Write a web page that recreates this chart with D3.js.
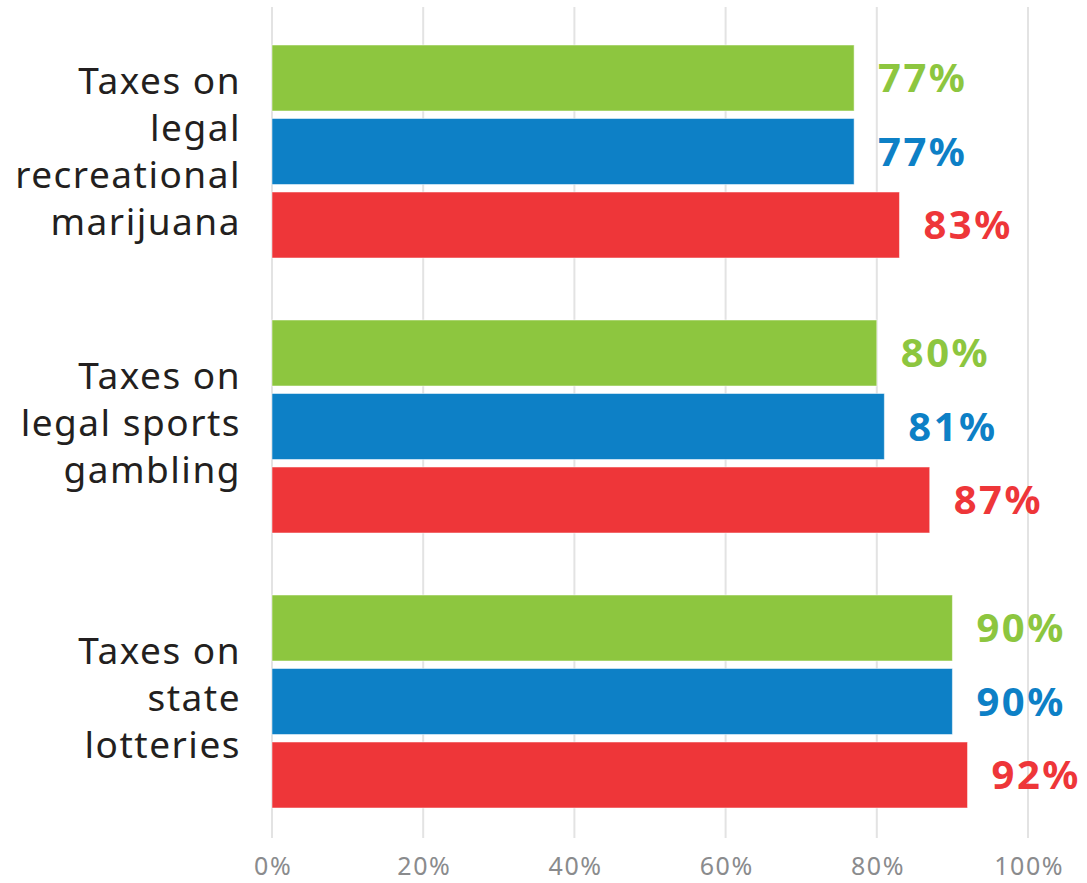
<!DOCTYPE html>
<html>
<head>
<meta charset="utf-8">
<script src="https://cdn.jsdelivr.net/npm/d3@7"></script>
<style>
  html, body { margin: 0; padding: 0; background: #ffffff; }
  svg { display: block; }
</style>
</head>
<body>
<svg id="chart" width="1087" height="883"></svg>
<script>
// Share of respondents per tax type, three respondent groups
const categories = [
  ["Taxes on", "legal", "recreational", "marijuana"],
  ["Taxes on", "legal sports", "gambling"],
  ["Taxes on", "state", "lotteries"]
];
const seriesNames = ["Green", "Blue", "Red"];
const seriesColors = ["#8dc63f", "#0d80c6", "#ee3639"];
const greenValues = [77, 80, 90];
const blueValues = [77, 81, 90];
const redValues = [83, 87, 92];
const tickValues = [0, 20, 40, 60, 80, 100];
const tickLabels = ["0%", "20%", "40%", "60%", "80%", "100%"];

const series = [greenValues, blueValues, redValues];
const font = "'Noto Sans', 'Open Sans', sans-serif";

const svg = d3.select("#chart");

const x = d3.scaleLinear().domain([0, 100]).range([272, 1028]);

// One band per category, subdivided into one band per series
const y0 = d3.scaleBand()
  .domain(d3.range(categories.length))
  .range([35, 860])
  .paddingInner(0)
  .paddingOuter(0);
const y1 = d3.scaleBand()
  .domain(d3.range(series.length))
  .range([10, 223])
  .paddingInner(0.102)
  .paddingOuter(0);

// Vertical gridlines
svg.append("g")
  .selectAll("line")
  .data(tickValues)
  .join("line")
  .attr("x1", d => x(d))
  .attr("x2", d => x(d))
  .attr("y1", 7)
  .attr("y2", 838)
  .attr("stroke", "#e3e3e3")
  .attr("stroke-width", 2);

// Axis tick labels along the bottom
const axis = d3.axisBottom(x)
  .tickValues(tickValues)
  .tickFormat((d, i) => tickLabels[i])
  .tickSize(0)
  .tickPadding(0);
const axisG = svg.append("g")
  .attr("transform", "translate(0,875)")
  .call(axis);
axisG.select(".domain").remove();
axisG.selectAll("text")
  .attr("y", 0)
  .attr("dy", 0)
  .attr("dx", "0.7px")
  .attr("fill", "#8a8b8d")
  .style("font-family", font)
  .style("font-size", "25px")
  .style("letter-spacing", "1.6px");

// Bars and value labels
const groups = svg.append("g")
  .selectAll("g")
  .data(categories)
  .join("g")
  .attr("transform", (d, i) => `translate(0,${y0(i)})`);

groups.each(function (cat, ci) {
  const g = d3.select(this);
  series.forEach((vals, si) => {
    const v = vals[ci];
    g.append("rect")
      .attr("x", x(0))
      .attr("y", y1(si))
      .attr("width", x(v) - x(0))
      .attr("height", y1.bandwidth())
      .attr("fill", seriesColors[si])
      .attr("stroke", "#ffffff")
      .attr("stroke-opacity", 0.5)
      .attr("stroke-width", 1);
    g.append("text")
      .attr("x", x(v) + 24)
      .attr("y", y1(si) + y1.bandwidth() / 2)
      .attr("dy", "0.36em")
      .attr("fill", seriesColors[si])
      .style("font-family", font)
      .style("font-weight", 700)
      .style("font-size", "40px")
      .style("letter-spacing", "2.5px")
      .text(v + "%");
  });

  // Category label, multi-line, right aligned and centred on the group
  const mid = y1.range()[0] + (y1.range()[1] - y1.range()[0]) / 2;
  const lh = 47;
  const n = cat.length;
  const lift = n % 2 ? 4 : 0;
  g.append("text")
    .attr("text-anchor", "end")
    .attr("fill", "#231f20")
    .style("font-family", font)
    .style("font-size", "37px")
    .style("letter-spacing", "1.5px")
    .selectAll("tspan")
    .data(cat)
    .join("tspan")
    .attr("x", 241)
    .attr("y", (d, i) => mid - lift + (i - (n - 1) / 2) * lh)
    .attr("dy", "0.36em")
    .text(d => d);
});
</script>
</body>
</html>
